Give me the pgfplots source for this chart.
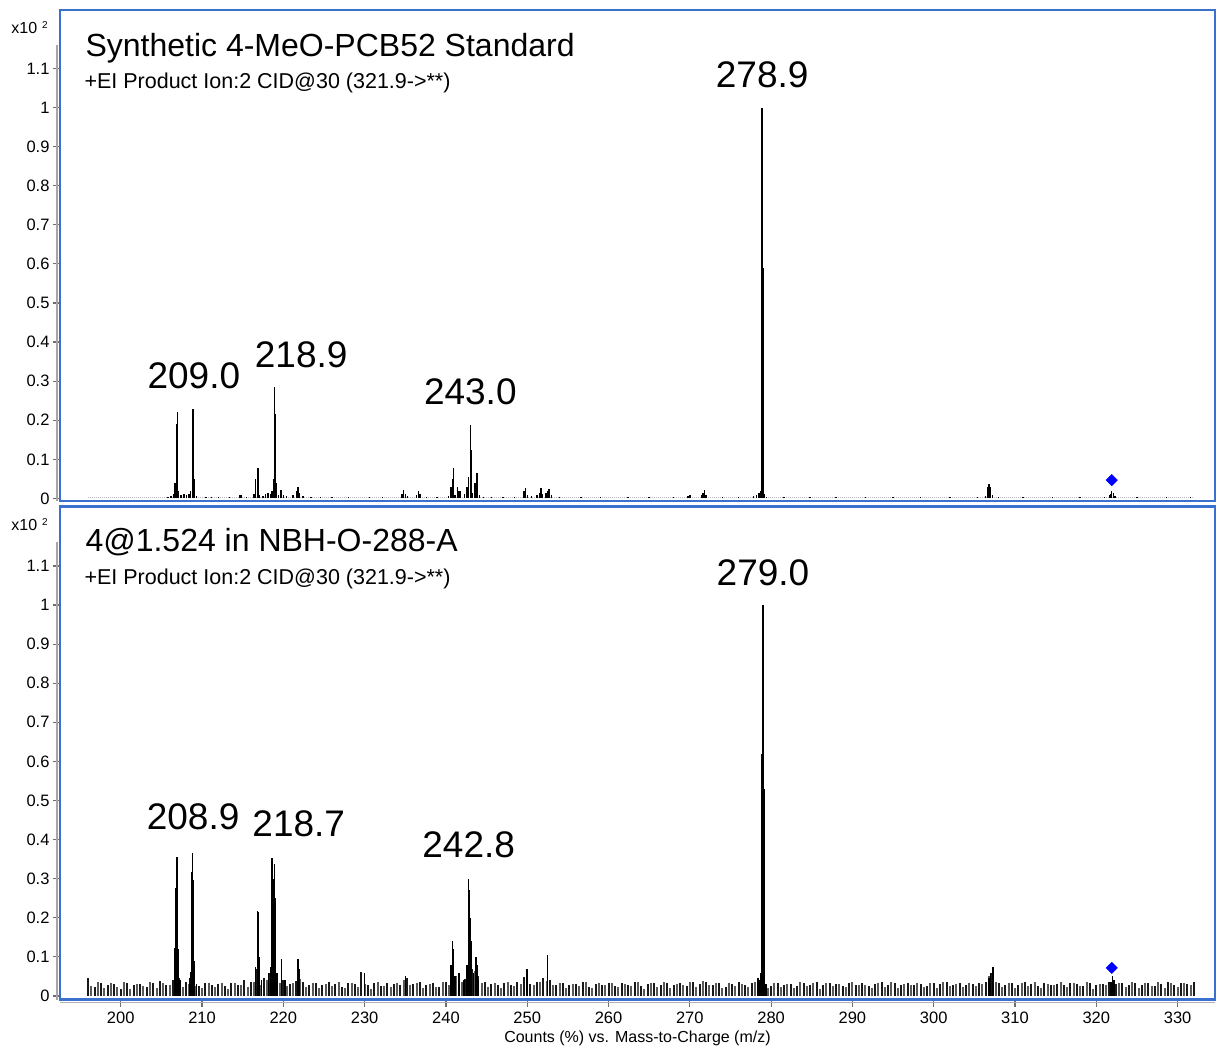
\documentclass[border=0pt]{standalone}
\usepackage{fontspec}
\setmainfont{Liberation Sans}
\usepackage{pgfplots}
\pgfplotsset{compat=1.18}
\definecolor{frameblue}{RGB}{58,112,206}
\definecolor{tickgray}{RGB}{110,110,110}

\pgfplotsset{
  msaxis/.style={
    scale only axis, width=1155pt,
    xmin=192.53, xmax=334.6,
    clip=false,
    axis line style={draw=frameblue, line width=2.5pt},
    tick align=outside, major tick length=7pt,
    tick style={tickgray, line width=1.2pt},
    ytick pos=left, xtick pos=left,
    ytick={0,0.1,0.2,0.3,0.4,0.5,0.6,0.7,0.8,0.9,1,1.1},
    ticklabel style={font=\fontsize{16.5}{19}\selectfont},
    /pgf/number format/assume math mode=true,
  },
}
\tikzset{peaklbl/.style={anchor=base, font=\fontsize{37}{40}\selectfont}}

\begin{document}
\begin{tikzpicture}

% ---------- top panel: synthetic standard ----------
\begin{axis}[msaxis, name=top, height=491pt,
    ymin=-0.0064, ymax=1.2494, xtick=\empty]

\addplot[gray!55, line width=1pt, densely dotted] coordinates {(196,0.002) (332,0.002)};

\addplot[ycomb, black, line width=1.4pt] coordinates {
(205.8,.004) (206.2,.006) (206.5,.012) (206.6,.028) (206.7,.04) (206.9,.19) (207.0,.22)
(207.1,.02) (207.4,.008) (207.8,.012) (208.1,.008) (208.4,.012) (208.6,.018)
(208.8,.17) (208.9,.23) (209.1,.05) (209.3,.006) (210.5,.003) (211.2,.004) (212.0,.003)
(213.4,.004) (214.6,.008) (214.8,.008) (215.5,.004) (216.4,.012) (216.6,.05)
(216.8,.075) (216.9,.078) (217.1,.01) (217.5,.006) (217.8,.012) (218.1,.014)
(218.4,.012) (218.6,.018) (218.8,.05) (218.9,.285) (219.0,.215) (219.1,.04)
(219.4,.008) (219.7,.022) (219.8,.02) (220.0,.008) (220.4,.006) (221.2,.008)
(221.6,.02) (221.8,.03) (222.0,.014) (222.4,.006) (223.4,.004) (224.6,.003)
(226.0,.004) (228.0,.003) (230.6,.004) (232.2,.003) (234.6,.012) (234.8,.022)
(235.0,.012) (235.3,.006) (236.4,.008) (236.6,.02) (236.8,.012) (237.6,.004)
(238.9,.003) (240.3,.006) (240.6,.03) (240.8,.05) (240.9,.077) (241.1,.01)
(241.4,.03) (241.6,.02) (241.8,.018) (242.3,.012) (242.6,.03) (242.8,.055)
(243.0,.187) (243.1,.125) (243.3,.015) (243.6,.04) (243.8,.066) (243.9,.025)
(244.1,.008) (244.6,.004) (245.6,.003) (247.0,.004) (248.4,.004) (249.6,.02)
(249.8,.028) (250.0,.01) (250.5,.006) (251.2,.008) (251.5,.014) (251.7,.028)
(251.9,.012) (252.3,.015) (252.5,.02) (252.7,.025) (253.0,.008) (254.0,.003)
(256.6,.004) (259.0,.003) (262.4,.003) (265.0,.003) (268.0,.004) (269.8,.006)
(270.0,.008) (271.4,.008) (271.6,.014) (271.8,.022) (272.0,.01) (274.0,.004)
(276.0,.003) (277.8,.006) (278.2,.01) (278.5,.014) (278.7,.02) (278.9,1.0)
(279.0,.59) (279.1,.012) (279.4,.004) (281.6,.003) (284.8,.004) (288.0,.003)
(291.6,.003) (295.0,.003) (298.4,.003) (302.0,.003) (305.4,.004) (306.4,.006)
(306.7,.03) (306.8,.036) (306.9,.03) (307.0,.02) (307.2,.008) (308.0,.003)
(311.0,.003) (314.6,.003) (318.0,.003) (321.0,.004) (321.6,.01) (321.8,.012)
(321.9,.02) (322.1,.014) (322.3,.006) (325.0,.003) (328.6,.003) (331.6,.003)
};

\addplot[only marks, mark=square*, mark size=4pt, mark options={rotate=45}, blue] coordinates {(321.9,0.047)};

\draw[gray!70, line width=1.5pt] ([xshift=-3pt]axis cs:192.53,-0.0064) -- ([xshift=-3pt]axis cs:192.53,1.16);

\node[anchor=base east, inner sep=0pt, font=\fontsize{16}{18}\selectfont] at ([xshift=-12pt,yshift=-24pt]rel axis cs:0,1)
  {x10\hspace{5pt}\raisebox{5pt}{\fontsize{10}{11}\selectfont 2}};
\node[anchor=base west, font=\fontsize{32}{36}\selectfont] at ([xshift=22pt,yshift=-47pt]rel axis cs:0,1)
  {Synthetic 4-MeO-PCB52 Standard};
\node[anchor=base west, font=\fontsize{21.5}{24}\selectfont] at ([xshift=21pt,yshift=-79pt]rel axis cs:0,1)
  {+EI Product Ion:2 CID@30 (321.9->**)};

\node[peaklbl] at (axis cs:209.0,0.281) {209.0};
\node[peaklbl] at (axis cs:222.2,0.335) {218.9};
\node[peaklbl] at (axis cs:243.0,0.240) {243.0};
\node[peaklbl] at (axis cs:278.9,1.051) {278.9};
\end{axis}

% ---------- bottom panel: sample ----------
\begin{axis}[msaxis, at={(top.south west)}, anchor=north west, yshift=-5.5pt,
    height=493pt, ymin=-0.009, ymax=1.252,
    xtick={200,210,...,330},
    xticklabel style={yshift=-2pt},
    xlabel={Counts (\%) vs. Mass-to-Charge (m/z)},
    xlabel style={font=\fontsize{16}{18}\selectfont, inner sep=0pt, yshift=-4pt}]

% baseline noise, two interleaved series
\addplot[ycomb, black!90, line width=2pt] coordinates {
(196.0,.047) (196.8,.022) (197.6,.034) (198.4,.028) (199.2,.031) (200.0,.019) (200.8,.033)
(201.6,.027) (202.4,.030) (203.2,.024) (204.0,.032) (204.8,.038) (205.6,.029) (206.4,.041)
(207.2,.045) (208.0,.036) (208.8,.050) (209.6,.026) (210.4,.034) (211.2,.029) (212.0,.031)
(212.8,.025) (213.6,.033) (214.4,.028) (215.2,.040) (216.0,.035) (216.8,.070) (217.6,.045)
(218.4,.060) (219.2,.050) (220.0,.042) (220.8,.030) (221.6,.038) (222.4,.037) (223.2,.027)
(224.0,.034) (224.8,.029) (225.6,.035) (226.4,.031) (227.2,.022) (228.0,.033) (228.8,.030)
(229.6,.061) (230.4,.028) (231.2,.034) (232.0,.026) (232.8,.033) (233.6,.030) (234.4,.027)
(235.2,.047) (236.0,.031) (236.8,.036) (237.6,.028) (238.4,.033) (239.2,.024) (240.0,.035)
(240.8,.060) (241.6,.052) (242.4,.044) (243.2,.070) (244.0,.050) (244.8,.036) (245.6,.030)
(246.4,.027) (247.2,.033) (248.0,.029) (248.8,.036) (249.6,.048) (250.4,.031) (251.2,.036)
(252.0,.045) (252.8,.040) (253.6,.028) (254.4,.033) (255.2,.027) (256.0,.030) (256.8,.035)
(257.6,.024) (258.4,.031) (259.2,.029) (260.0,.034) (260.8,.026) (261.6,.032) (262.4,.028)
(263.2,.035) (264.0,.025) (264.8,.031) (265.6,.033) (266.4,.027) (267.2,.034) (268.0,.029)
(268.8,.032) (269.6,.026) (270.4,.035) (271.2,.030) (272.0,.036) (272.8,.028) (273.6,.033)
(274.4,.024) (275.2,.031) (276.0,.035) (276.8,.027) (277.6,.033) (278.4,.046) (279.2,.030)
(280.0,.025) (280.8,.034) (281.6,.029) (282.4,.031) (283.2,.026) (284.0,.033) (284.8,.028)
(285.6,.035) (286.4,.027) (287.2,.032) (288.0,.030) (288.8,.025) (289.6,.034) (290.4,.029)
(291.2,.033) (292.0,.026) (292.8,.031) (293.6,.035) (294.4,.028) (295.2,.032) (296.0,.027)
(296.8,.034) (297.6,.029) (298.4,.031) (299.2,.026) (300.0,.033) (300.8,.030) (301.6,.035)
(302.4,.027) (303.2,.032) (304.0,.028) (304.8,.031) (305.6,.034) (306.4,.036) (307.2,.060)
(308.0,.033) (308.8,.029) (309.6,.032) (310.4,.027) (311.2,.035) (312.0,.030) (312.8,.026)
(313.6,.033) (314.4,.029) (315.2,.031) (316.0,.027) (316.8,.034) (317.6,.030) (318.4,.025)
(319.2,.033) (320.0,.028) (320.8,.031) (321.6,.036) (322.4,.030) (323.2,.033) (324.0,.027)
(324.8,.032) (325.6,.029) (326.4,.034) (327.2,.026) (328.0,.031) (328.8,.035) (329.6,.028)
(330.4,.032) (331.2,.030) (332.0,.036)
};
\addplot[ycomb, black!65, line width=2pt] coordinates {
(196.4,.026) (197.2,.036) (198.0,.020) (198.8,.032) (199.6,.023) (200.4,.035) (201.2,.019)
(202.0,.031) (202.8,.025) (203.6,.036) (204.4,.021) (205.2,.033) (206.0,.028) (206.8,.036)
(207.6,.023) (208.4,.030) (209.2,.026) (210.0,.020) (210.8,.034) (211.6,.024) (212.4,.032)
(213.2,.019) (214.0,.033) (214.8,.027) (215.6,.022) (216.4,.036) (217.2,.028) (218.0,.042)
(218.8,.036) (219.6,.032) (220.4,.026) (221.2,.033) (222.0,.044) (222.8,.023) (223.6,.034)
(224.4,.020) (225.2,.031) (226.0,.025) (226.8,.036) (227.6,.021) (228.4,.033) (229.2,.024)
(230.0,.030) (230.8,.019) (231.6,.035) (232.4,.026) (233.2,.022) (234.0,.032) (234.8,.042)
(235.6,.028) (236.4,.033) (237.2,.020) (238.0,.031) (238.8,.024) (239.6,.036) (240.4,.029)
(241.2,.050) (242.0,.036) (242.8,.055) (243.6,.065) (244.4,.034) (245.2,.023) (246.0,.032)
(246.8,.020) (247.6,.035) (248.4,.026) (249.2,.030) (250.0,.070) (250.8,.029) (251.6,.036)
(252.4,.039) (253.2,.027) (254.0,.033) (254.8,.021) (255.6,.031) (256.4,.025) (257.2,.036)
(258.0,.020) (258.8,.032) (259.6,.027) (260.4,.034) (261.2,.022) (262.0,.030) (262.8,.026)
(263.6,.036) (264.4,.019) (265.2,.033) (266.0,.024) (266.8,.035) (267.6,.021) (268.4,.031)
(269.2,.028) (270.0,.036) (270.8,.023) (271.6,.039) (272.4,.027) (273.2,.032) (274.0,.020)
(274.8,.034) (275.6,.025) (276.4,.031) (277.2,.022) (278.0,.036) (279.6,.020) (280.4,.033)
(281.2,.024) (282.0,.030) (282.8,.021) (283.6,.035) (284.4,.026) (285.2,.032) (286.0,.019)
(286.8,.034) (287.6,.025) (288.4,.031) (289.2,.022) (290.0,.036) (290.8,.027) (291.6,.029)
(292.4,.020) (293.2,.033) (294.0,.024) (294.8,.035) (295.6,.021) (296.4,.031) (297.2,.028)
(298.0,.034) (298.8,.023) (299.6,.032) (300.4,.020) (301.2,.036) (302.0,.026) (302.8,.030)
(303.6,.022) (304.4,.033) (305.2,.025) (306.0,.031) (306.8,.050) (307.6,.036) (308.4,.024)
(309.2,.034) (310.0,.021) (310.8,.032) (311.6,.026) (312.4,.037) (313.2,.020) (314.0,.030)
(314.8,.027) (315.6,.035) (316.4,.022) (317.2,.032) (318.0,.025) (318.8,.036) (319.6,.019)
(320.4,.031) (321.2,.028) (322.8,.033) (323.6,.023) (324.4,.035) (325.2,.021) (326.0,.032)
(326.8,.026) (327.6,.037) (328.4,.020) (329.2,.033) (330.0,.024) (330.8,.034) (331.6,.028)
};

% fragment peaks
\addplot[ycomb, black, line width=1.5pt] coordinates {
(206.6,.062) (206.7,.123) (206.8,.276) (206.9,.356) (207.0,.216) (207.1,.12) (207.3,.04)
(208.5,.045) (208.6,.062) (208.7,.317) (208.8,.367) (208.9,.297) (209.1,.09) (209.3,.03)
(216.6,.074) (216.8,.218) (216.9,.215) (217.1,.10) (217.3,.04)
(218.2,.06) (218.4,.075) (218.6,.354) (218.7,.30) (218.9,.337) (219.0,.25) (219.2,.06)
(219.8,.095) (220.2,.04) (221.8,.095) (221.9,.07) (230.0,.06) (235.0,.05)
(240.6,.08) (240.8,.14) (240.9,.12) (241.1,.05) (241.6,.06) (242.2,.04) (242.6,.08)
(242.8,.30) (242.9,.27) (243.0,.20) (243.1,.14) (243.4,.06) (243.7,.10) (243.8,.08) (244.0,.04)
(250.0,.07) (252.5,.105)
(278.4,.045) (278.6,.04) (278.7,.06) (278.8,.29) (278.9,.62) (279.0,1.0) (279.1,.53)
(279.2,.165) (279.4,.03)
(306.8,.045) (307.0,.06) (307.3,.075) (321.8,.035) (322.0,.05) (322.2,.04)
};

\addplot[only marks, mark=square*, mark size=4pt, mark options={rotate=45}, blue] coordinates {(321.9,0.072)};

\draw[gray!70, line width=1.5pt] ([xshift=-3pt]axis cs:192.53,-0.009) -- ([xshift=-3pt]axis cs:192.53,1.16);
\draw[gray!60, line width=1.2pt] ([yshift=-3pt]rel axis cs:0,0) -- ([yshift=-3pt]rel axis cs:1,0);

\node[anchor=base east, inner sep=0pt, font=\fontsize{16}{18}\selectfont] at ([xshift=-12pt,yshift=-24pt]rel axis cs:0,1)
  {x10\hspace{5pt}\raisebox{5pt}{\fontsize{10}{11}\selectfont 2}};
\node[anchor=base west, font=\fontsize{32}{36}\selectfont] at ([xshift=22pt,yshift=-45pt]rel axis cs:0,1)
  {4@1.524 in NBH-O-288-A};
\node[anchor=base west, font=\fontsize{21.5}{24}\selectfont] at ([xshift=21pt,yshift=-78pt]rel axis cs:0,1)
  {+EI Product Ion:2 CID@30 (321.9->**)};

\node[peaklbl] at (axis cs:208.9,0.425) {208.9};
\node[peaklbl] at (axis cs:221.9,0.407) {218.7};
\node[peaklbl] at (axis cs:242.8,0.353) {242.8};
\node[peaklbl] at (axis cs:279.0,1.051) {279.0};
\end{axis}

% page frame
\path (top.north west) ++(-60pt,10pt) coordinate (pg);
\path (pg) rectangle ++(1217pt,-1048pt);
\end{tikzpicture}
\end{document}
